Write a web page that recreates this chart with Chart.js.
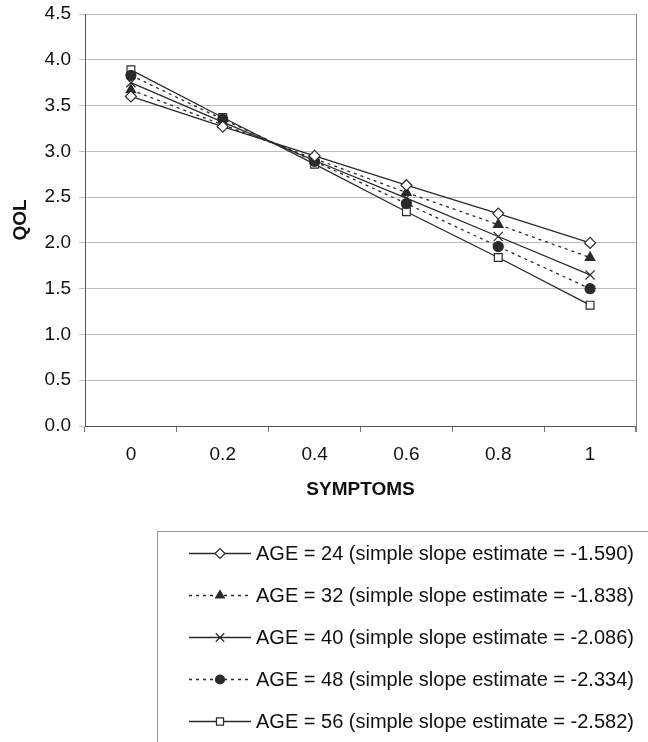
<!DOCTYPE html>
<html>
<head>
<meta charset="utf-8">
<script src="https://cdn.jsdelivr.net/npm/chart.js@4/dist/chart.umd.min.js"></script>
<style>
  html, body { margin: 0; padding: 0; background: #fff; }
  #wrap { width: 648px; height: 742px; }
</style>
</head>
<body>
<div id="wrap"><canvas id="QolChart" width="648" height="742"></canvas></div>
<script>
// symptom levels on the x axis
const symptoms = ['0', '0.2', '0.4', '0.6', '0.8', '1'];

// QOL for each age group
const age24 = [3.60, 3.27, 2.95, 2.63, 2.32, 2.00];
const age32 = [3.67, 3.29, 2.92, 2.55, 2.20, 1.84];
const age40 = [3.75, 3.32, 2.90, 2.49, 2.07, 1.65];
const age48 = [3.83, 3.35, 2.89, 2.43, 1.96, 1.50];
const age56 = [3.89, 3.37, 2.86, 2.34, 1.84, 1.32];

const seriesLabels = [
  'AGE = 24 (simple slope estimate = -1.590)',
  'AGE = 32 (simple slope estimate = -1.838)',
  'AGE = 40 (simple slope estimate = -2.086)',
  'AGE = 48 (simple slope estimate = -2.334)',
  'AGE = 56 (simple slope estimate = -2.582)'
];

const yTicks = [0, 0.5, 1, 1.5, 2, 2.5, 3, 3.5, 4, 4.5];

const ink = '#2a2a2a';
const dashed = [3, 4];

Chart.defaults.font.family = "'Liberation Sans', Arial, sans-serif";
Chart.defaults.color = '#111';

function makeSet(label, values, style, radius, filled, dash) {
  return {
    label: label,
    data: values,
    borderColor: ink,
    borderWidth: 1.3,
    borderDash: dash || [],
    pointStyle: style,
    pointRadius: radius,
    pointBorderWidth: 1.2,
    pointBorderColor: ink,
    pointBackgroundColor: filled ? ink : '#fff',
    fill: false,
    tension: 0
  };
}

// legend drawn by hand: line sample with marker in the middle, boxed
const boxLegend = {
  id: 'boxLegend',
  afterDraw(chart) {
    const ctx = chart.ctx;
    ctx.save();
    // right frame of the plot
    const ca = chart.chartArea;
    ctx.strokeStyle = '#8a8a8a';
    ctx.lineWidth = 1;
    ctx.beginPath();
    ctx.moveTo(ca.right + 0.5, ca.top);
    ctx.lineTo(ca.right + 0.5, ca.bottom + 6);
    ctx.stroke();

    // legend frame
    ctx.strokeStyle = '#999';
    ctx.strokeRect(157.5, 531.5, 500, 240);

    const rowY = [553, 595, 637, 679, 721];
    chart.data.datasets.forEach((ds, i) => {
      const y = rowY[i];
      ctx.strokeStyle = ds.borderColor;
      ctx.lineWidth = ds.borderWidth;
      ctx.setLineDash(ds.borderDash);
      ctx.beginPath();
      ctx.moveTo(189, y + 0.5);
      ctx.lineTo(251, y + 0.5);
      ctx.stroke();
      ctx.setLineDash([]);
      ctx.fillStyle = ds.pointBackgroundColor;
      ctx.strokeStyle = ds.pointBorderColor;
      ctx.lineWidth = ds.pointBorderWidth;
      Chart.helpers.drawPoint(ctx, {
        pointStyle: ds.pointStyle,
        radius: ds.pointRadius - 0.5,
        rotation: 0,
        borderWidth: ds.pointBorderWidth
      }, 220, y + 0.5);
      ctx.fillStyle = '#111';
      ctx.font = "20px 'Liberation Sans', Arial, sans-serif";
      ctx.textBaseline = 'middle';
      ctx.textAlign = 'left';
      ctx.fillText(ds.label, 256, y + 1);
    });
    ctx.restore();
  }
};

const data = {
  labels: symptoms,
  datasets: [
    makeSet(seriesLabels[0], age24, 'rectRot', 5.5, false),
    makeSet(seriesLabels[1], age32, 'triangle', 5.5, true, dashed),
    makeSet(seriesLabels[2], age40, 'crossRot', 6.5, false),
    makeSet(seriesLabels[3], age48, 'circle', 5, true, dashed),
    makeSet(seriesLabels[4], age56, 'rect', 5.5, false)
  ]
};

const config = {
  type: 'line',
  data: data,
  plugins: [boxLegend],
  options: {
    responsive: false,
    animation: false,
    layout: { padding: { top: 14, right: 12, bottom: 236, left: 0 } },
    plugins: {
      legend: { display: false },
      tooltip: { enabled: false }
    },
    scales: {
      x: {
        type: 'category',
        offset: true,
        grid: {
          offset: true,
          drawOnChartArea: false,
          drawTicks: true,
          tickLength: 6,
          color: '#777'
        },
        border: { color: '#555', width: 1 },
        ticks: { padding: 11, font: { size: 19 }, color: '#111' },
        title: {
          display: true,
          text: 'SYMPTOMS',
          font: { size: 19, weight: 'bold' },
          color: '#111',
          padding: { top: 0, bottom: 5 }
        },
        afterFit(scale) { scale.height = 80; }
      },
      y: {
        min: 0,
        max: 4.5,
        afterBuildTicks(scale) { scale.ticks = yTicks.map(v => ({ value: v })); },
        grid: { color: '#bdbdbd', tickLength: 6, lineWidth: 1 },
        border: { color: '#555', width: 1 },
        ticks: {
          padding: 8,
          font: { size: 19 },
          color: '#111',
          callback: v => Number(v).toFixed(1)
        },
        title: {
          display: true,
          text: 'QOL',
          font: { size: 19, weight: 'bold' },
          color: '#111',
          padding: { top: 9, bottom: 0 }
        },
        afterFit(scale) {
          scale.width = 85;
          // let the top label hang over the padding
          scale.paddingTop = 0;
          scale.paddingBottom = 0;
        }
      }
    }
  }
};

const ctx = document.getElementById('QolChart').getContext('2d');
new Chart(ctx, config);
</script>
</body>
</html>
